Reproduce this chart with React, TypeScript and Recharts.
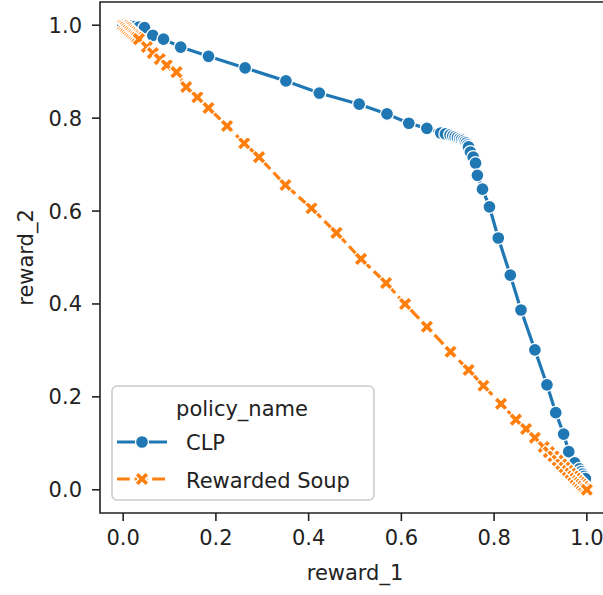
import { LineChart, Line, XAxis, YAxis, ReferenceArea, Legend } from "recharts";

// reward pairs per policy, sorted by reward_1
const clpReward1 = [
  0.0, 0.008, 0.016, 0.025, 0.034, 0.046, 0.064, 0.087, 0.124, 0.184, 0.263,
  0.351, 0.423, 0.509, 0.569, 0.616, 0.655, 0.685, 0.695, 0.705, 0.711, 0.716,
  0.721, 0.726, 0.73, 0.734, 0.737, 0.74, 0.743, 0.745, 0.749, 0.755, 0.76,
  0.764, 0.775, 0.79, 0.809, 0.835, 0.858, 0.888, 0.914, 0.933, 0.95, 0.961,
  0.974, 0.984, 0.988, 0.991, 0.994, 0.997,
];
const clpReward2 = [
  1.0, 0.999, 0.998, 0.997, 0.996, 0.995, 0.978, 0.97, 0.953, 0.933, 0.908,
  0.88, 0.854, 0.83, 0.809, 0.789, 0.778, 0.768, 0.766, 0.764, 0.762, 0.76,
  0.758, 0.756, 0.754, 0.752, 0.749, 0.746, 0.742, 0.738, 0.727, 0.716, 0.703,
  0.677, 0.647, 0.609, 0.542, 0.462, 0.387, 0.301, 0.226, 0.166, 0.12, 0.082,
  0.058, 0.045, 0.039, 0.034, 0.029, 0.024,
];

const soupReward1 = [
  0.0, 0.003, 0.006, 0.009, 0.012, 0.015, 0.018, 0.021, 0.024, 0.027, 0.03,
  0.034, 0.051, 0.064, 0.079, 0.094, 0.115, 0.136, 0.16, 0.184, 0.224, 0.261,
  0.293, 0.35, 0.406, 0.46, 0.513, 0.567, 0.608, 0.655, 0.706, 0.745, 0.777,
  0.815, 0.847, 0.869, 0.888, 0.907, 0.918, 0.928, 0.937, 0.945, 0.952, 0.959,
  0.965, 0.971, 0.976, 0.981, 0.985, 0.989, 0.993, 0.997, 1.0,
];
const soupReward2 = [
  1.0, 0.997, 0.995, 0.992, 0.989, 0.986, 0.983, 0.98, 0.978, 0.975, 0.973,
  0.97, 0.953, 0.94, 0.927, 0.914, 0.899, 0.867, 0.845, 0.822, 0.783, 0.746,
  0.716, 0.656, 0.606, 0.553, 0.497, 0.445, 0.4, 0.351, 0.297, 0.258, 0.224,
  0.185, 0.151, 0.131, 0.112, 0.092, 0.081, 0.072, 0.063, 0.055, 0.048, 0.041,
  0.035, 0.029, 0.024, 0.019, 0.015, 0.011, 0.007, 0.003, 0.0,
];

const tickValues = [0, 0.2, 0.4, 0.6, 0.8, 1.0];
const seriesNames = ["CLP", "Rewarded Soup"];
const legendTitle = "policy_name";
const xLabel = "reward_1";
const yLabel = "reward_2";

const BLUE = "#1f77b4";
const ORANGE = "#ff7f0e";
const INK = "#222";
const FONT = "'DejaVu Sans', sans-serif";
const FONT_SIZE = 21;
const LW = 3.2; // line width
const MS = 14; // marker size
const MEW = 1.3; // white marker edge
const DASH = `${4 * LW} ${1.5 * LW}`;

const toRows = (xs: number[], ys: number[]) =>
  xs.map((x, i) => ({ x, y: ys[i] }));
const clpRows = toRows(clpReward1, clpReward2);
const soupRows = toRows(soupReward1, soupReward2);

// filled "X" marker outline, same proportions as matplotlib's
const xShape = [
  [-1, -2], [0, -1], [1, -2], [2, -1], [1, 0], [2, 1],
  [1, 2], [0, 1], [-1, 2], [-2, 1], [-1, 0], [-2, -1],
];
const xPath = (cx: number, cy: number, s: number) => {
  const k = s / 4;
  return (
    "M" + xShape.map(([a, b]) => `${cx + a * k},${cy + b * k}`).join("L") + "Z"
  );
};

const circleDot = (p: any) =>
  p.cx == null ? null : (
    <circle
      key={`clp-${p.index}`}
      cx={p.cx}
      cy={p.cy}
      r={MS / 2 - 0.5}
      fill={BLUE}
      stroke="#fff"
      strokeWidth={MEW}
    />
  );

const crossDot = (p: any) =>
  p.cx == null ? null : (
    <path
      key={`soup-${p.index}`}
      d={xPath(p.cx, p.cy, MS)}
      fill={ORANGE}
      stroke="#fff"
      strokeWidth={MEW}
      strokeLinejoin="miter"
    />
  );

const renderLegend = () => (
  <svg width={265} height={117} style={{ display: "block" }}>
    <rect
      x={1}
      y={1}
      width={262}
      height={114}
      rx={5}
      fill="#fff"
      fillOpacity={0.8}
      stroke="#cccccc"
      strokeWidth={1.6}
    />
    <g fontFamily={FONT} fontSize={FONT_SIZE} fill={INK}>
      <text x={131} y={31} textAnchor="middle">
        {legendTitle}
      </text>
      <line x1={6} x2={56} y1={57} y2={57} stroke={BLUE} strokeWidth={LW} />
      <circle cx={31} cy={57} r={MS / 2 - 0.5} fill={BLUE} stroke="#fff" strokeWidth={MEW} />
      <text x={75} y={65}>
        {seriesNames[0]}
      </text>
      <line
        x1={6}
        x2={56}
        y1={94}
        y2={94}
        stroke={ORANGE}
        strokeWidth={LW}
        strokeDasharray={DASH}
      />
      <path d={xPath(31, 94, MS)} fill={ORANGE} stroke="#fff" strokeWidth={MEW} />
      <text x={75} y={103}>
        {seriesNames[1]}
      </text>
    </g>
  </svg>
);

const renderXLabel = ({ viewBox }: any) => (
  <text
    x={viewBox.x + viewBox.width / 2}
    y={580}
    textAnchor="middle"
    fontFamily={FONT}
    fontSize={FONT_SIZE}
    fill={INK}
  >
    {xLabel}
  </text>
);

const renderYLabel = ({ viewBox }: any) => {
  const cx = 33;
  const cy = viewBox.y + viewBox.height / 2;
  return (
    <text
      x={cx}
      y={cy}
      transform={`rotate(-90, ${cx}, ${cy})`}
      textAnchor="middle"
      fontFamily={FONT}
      fontSize={FONT_SIZE}
      fill={INK}
    >
      {yLabel}
    </text>
  );
};

const tickStyle = { fill: INK, fontSize: FONT_SIZE, fontFamily: FONT };
const tickLine = { stroke: INK, strokeWidth: 1.6 };
const fmt = (v: number) => v.toFixed(1);

export default function App(): JSX.Element {
  return (
    <div
      style={{
        position: "fixed",
        left: 0,
        top: 0,
        width: 603,
        height: 595,
        overflow: "hidden",
        background: "#fff",
      }}
    >
      <LineChart
        width={610}
        height={595}
        margin={{ top: 2, right: 0, bottom: 0, left: 0 }}
      >
        <XAxis
          type="number"
          dataKey="x"
          domain={[-0.05, 1.05]}
          allowDataOverflow
          ticks={tickValues}
          tickFormatter={fmt}
          height={82}
          axisLine={false}
          tickLine={tickLine}
          tickSize={8}
          tickMargin={9}
          tick={tickStyle}
          label={renderXLabel}
        />
        <YAxis
          type="number"
          dataKey="y"
          domain={[-0.05, 1.05]}
          allowDataOverflow
          ticks={tickValues}
          tickFormatter={fmt}
          width={100}
          axisLine={false}
          tickLine={tickLine}
          tickSize={8}
          tickMargin={10}
          tick={tickStyle}
          label={renderYLabel}
        />
        <Line
          data={clpRows}
          dataKey="y"
          name={seriesNames[0]}
          type="linear"
          stroke={BLUE}
          strokeWidth={LW}
          dot={circleDot}
          activeDot={false}
          isAnimationActive={false}
        />
        <Line
          data={soupRows}
          dataKey="y"
          name={seriesNames[1]}
          type="linear"
          stroke={ORANGE}
          strokeWidth={LW}
          strokeDasharray={DASH}
          dot={crossDot}
          activeDot={false}
          isAnimationActive={false}
        />
        <ReferenceArea
          x1={-0.05}
          x2={1.05}
          y1={-0.05}
          y2={1.05}
          fill="none"
          stroke={INK}
          strokeWidth={1.6}
        />
        <Legend
          layout="vertical"
          align="center"
          verticalAlign="middle"
          content={renderLegend}
          wrapperStyle={{ left: 111, top: 385, width: 265, height: 117 }}
        />
      </LineChart>
    </div>
  );
}
